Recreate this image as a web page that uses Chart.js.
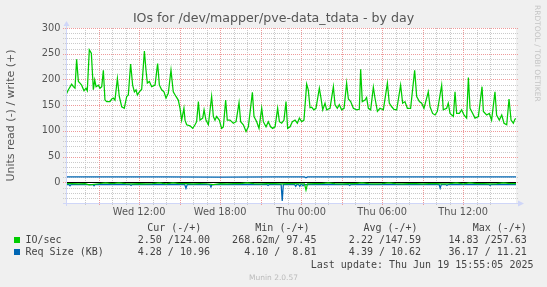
<!DOCTYPE html>
<html><head><meta charset="utf-8">
<script src="https://cdn.jsdelivr.net/npm/chart.js@4.4.1/dist/chart.umd.min.js"></script>
<style>
html,body{margin:0;padding:0;background:#F0F0F0;width:547px;height:287px;overflow:hidden;}
#wrap{position:relative;width:547px;height:287px;}
#c{position:absolute;left:0;top:0;}
.lg{position:absolute;white-space:pre;font-family:"DejaVu Sans Mono",monospace;font-size:10px;line-height:12px;color:#444;}
.sq{position:absolute;width:6px;height:6px;}
#wm{position:absolute;left:532.5px;top:5px;writing-mode:vertical-rl;font-family:"DejaVu Sans",sans-serif;font-size:7.5px;line-height:9px;color:#c4c4c4;white-space:pre;}
#ver{position:absolute;left:0;top:273px;width:547px;text-align:center;font-family:"DejaVu Sans",sans-serif;font-size:7.5px;line-height:9px;color:#bbbbbb;}
</style></head>
<body><div id="wrap"><canvas id="c" width="547" height="287"></canvas></div>
<script>
// ---- texts ----
const chartTitle = 'IOs for /dev/mapper/pve-data_tdata - by day';
const yAxisTitle = 'Units read (-) / write (+)';
const watermark = 'RRDTOOL / TOBI OETIKER';
const versionText = 'Munin 2.0.57';
const lastUpdate = 'Last update: Thu Jun 19 15:55:05 2025';

// ---- axis range / ticks (hours since Wed 00:00) ----
const xStart = 6.5833, xEnd = 39.9167;
const xTickHours = [12, 18, 24, 30, 36];
const xTickLabels = ['Wed 12:00', 'Wed 18:00', 'Thu 00:00', 'Thu 06:00', 'Thu 12:00'];
const yTickValues = [0, 50, 100, 150, 200, 250, 300];

// ---- IO/sec write (+) ----
const ioWriteTimes = [6.58,6.76,7.00,7.13,7.25,7.37,7.50,7.62,7.74,7.92,8.06,8.16,8.31,8.46,8.61,8.71,8.81,8.98,9.10,9.23,9.35,9.47,9.60,9.84,9.97,10.09,10.21,10.39,10.53,10.71,10.90,11.08,11.20,11.37,11.52,11.65,11.77,11.87,12.02,12.19,12.39,12.51,12.61,12.76,12.93,13.18,13.37,13.50,13.67,13.84,13.99,14.16,14.36,14.53,14.73,14.90,15.03,15.15,15.32,15.40,15.52,15.77,15.97,16.14,16.26,16.39,16.51,16.71,16.81,16.95,17.13,17.37,17.50,17.62,17.74,17.94,18.11,18.24,18.41,18.53,18.73,18.98,19.18,19.40,19.52,19.72,19.92,20.09,20.39,20.51,20.71,20.88,21.08,21.20,21.40,21.57,21.74,21.89,22.07,22.26,22.39,22.56,22.73,22.88,23.00,23.18,23.35,23.55,23.72,23.87,24.04,24.21,24.41,24.53,24.66,24.78,24.95,25.10,25.35,25.47,25.60,25.77,25.89,26.14,26.39,26.51,26.68,26.83,27.00,27.18,27.37,27.50,27.67,27.87,28.11,28.31,28.41,28.53,28.73,28.85,28.98,29.15,29.35,29.47,29.65,29.84,30.09,30.39,30.53,30.71,30.88,31.08,31.37,31.52,31.69,31.87,32.11,32.41,32.56,32.76,32.93,33.10,33.42,33.55,33.74,33.92,34.09,34.41,34.53,34.78,34.90,35.03,35.28,35.40,35.52,35.72,35.89,36.06,36.26,36.39,36.51,36.71,36.88,37.13,37.40,37.50,37.74,37.94,38.11,38.36,38.48,38.68,38.86,39.03,39.23,39.40,39.55,39.72,39.84,39.92];
const ioWrite = [170,180,191,186,183,239,196,193,189,178,183,178,257.63,251,180,199,186,189,183,186,218,160,157,157,162,164,160,202,167,147,144,167,170,230,189,176,180,170,176,181,255,218,193,196,186,189,231,189,180,176,164,173,218,176,167,160,144,121,144,121,112,110,105,112,118,157,121,125,141,121,112,167,128,121,128,121,105,108,160,121,121,115,118,155,118,112,99,108,175,128,118,105,144,118,108,118,108,105,108,144,118,115,121,157,105,108,118,121,115,125,118,121,191,180,145,146,141,144,183,164,141,154,141,144,186,151,144,151,141,144,193,162,157,144,141,142,220,157,160,165,144,141,185,164,138,144,141,193,154,147,142,141,189,154,157,144,144,218,167,157,154,144,176,147,134,131,138,189,141,144,154,134,128,176,134,134,141,131,125,204,144,134,125,128,186,138,131,134,121,176,131,121,131,115,112,162,121,115,123,124];

// ---- IO/sec read (-) ----
const ioReadTimes = [6.58,7.0,7.5,8.0,8.3,8.5,9.0,9.5,10.0,10.5,11.0,11.5,12.0,12.5,13.0,13.5,14.0,14.5,15.0,15.5,16.0,16.5,17.0,17.5,18.0,18.5,19.0,19.5,20.0,20.5,21.0,21.5,22.0,22.5,23.0,23.5,24.0,24.25,24.36,24.47,25.0,25.5,26.0,26.5,27.0,27.5,28.0,28.5,29.0,29.5,30.0,30.5,31.0,31.5,32.0,32.5,33.0,33.5,34.0,34.5,35.0,35.5,36.0,36.5,37.0,37.5,38.0,38.5,39.0,39.5,39.92];
const ioRead = [-2.6,-2.4,-2.7,-2.5,-4.8,-4.5,-2.6,-0.8,-2.4,-0.9,-2.5,-2.6,-2.4,-2.7,-2.5,-1.0,-2.6,-0.8,-2.5,-2.4,-2.6,-2.3,-2.6,-4.2,-2.4,-2.6,-2.5,-2.4,-0.9,-2.5,-2.6,-2.4,-2.5,-2.6,-2.4,-2.5,-2.6,-3.0,-14.83,-3.0,-2.5,-2.4,-0.8,-2.5,-2.6,-2.4,-2.5,-0.9,-2.4,-2.6,-2.5,-0.8,-2.5,-2.6,-2.4,-2.5,-2.6,-2.4,-2.5,-2.6,-2.4,-0.8,-2.6,-0.9,-2.5,-2.4,-2.6,-2.5,-0.9,-2.4,-2.5];

// ---- Req Size (KB) write (+) ----
const reqWriteTimes = [6.58,10.0,14.0,18.0,22.0,24.25,24.36,24.47,28.0,32.0,36.0,39.92];
const reqWrite = [10.7,10.6,10.7,10.5,10.6,10.6,8.81,10.6,10.7,10.6,10.8,10.96];

// ---- Req Size (KB) read (-) ----
const reqReadTimes = [6.58,6.80,6.88,6.96,8.58,8.66,8.74,11.32,11.40,11.48,15.38,15.47,15.56,17.24,17.32,17.40,21.47,21.55,21.63,22.52,22.60,22.68,23.52,23.60,23.68,23.82,23.90,23.98,24.06,24.14,24.22,27.52,27.60,27.68,34.22,34.30,34.38,34.72,34.80,34.88,37.92,38.00,38.08,39.92];
const reqRead = [-4.3,-4.3,-6.5,-4.3,-4.3,-6.5,-4.4,-4.3,-6.0,-4.3,-4.3,-11.5,-4.4,-4.3,-9.0,-4.3,-4.3,-6.0,-4.3,-4.3,-36.17,-4.3,-4.3,-7.5,-4.4,-4.3,-7.5,-4.3,-4.3,-6.5,-4.3,-4.3,-6.0,-4.3,-4.3,-11.0,-4.3,-4.3,-6.0,-4.3,-4.3,-6.0,-4.3,-4.28];

// ---- legend ----
const seriesNames = ['IO/sec', 'Req Size (KB)'];
const seriesColors = ['#00CC00', '#0066B3'];
const statHeaders = ['Cur (-/+)', 'Min (-/+)', 'Avg (-/+)', 'Max (-/+)'];
const ioStats = ['2.50 /124.00', '268.62m/ 97.45', '2.22 /147.59', '14.83 /257.63'];
const reqStats = ['4.28 / 10.96', '4.10 /  8.81', '4.39 / 10.62', '36.17 / 11.21'];

// ---------------------------------------------------------------
const TXT = '#555555';
const GRID_MINOR = '#CACACA';
const GRID_MAJOR = '#EE9A9A';
const AXIS = '#CFD6F8';
const FONT = "'DejaVu Sans', sans-serif";

const pts = (t, v) => t.map((x, i) => ({x: x, y: v[i]}));
const isInt = v => Math.abs(v - Math.round(v)) < 1e-6;

const muninPlugin = {
  id: 'munin',
  beforeDraw(chart) {
    const {ctx, chartArea: a} = chart;
    ctx.save();
    ctx.fillStyle = '#FFFFFF';
    ctx.fillRect(a.left, a.top, a.right - a.left, a.bottom - a.top);
    ctx.restore();
  },
  beforeDatasetsDraw(chart) {
    const {ctx, chartArea: a, scales} = chart;
    const xs = scales.x, ys = scales.y;
    ctx.save();
    ctx.lineWidth = 1;
    ctx.setLineDash([1, 1]);
    [false, true].forEach(major => {
      ys.ticks.forEach(t => {
        if ((t.value % 50 === 0) !== major) return;
        const p = Math.round(ys.getPixelForValue(t.value)) + 0.5;
        ctx.strokeStyle = major ? GRID_MAJOR : GRID_MINOR;
        ctx.beginPath(); ctx.moveTo(a.left - 3, p); ctx.lineTo(a.right + 2, p); ctx.stroke();
      });
      xs.ticks.forEach(t => {
        if (!isInt(t.value)) return;
        if ((Math.round(t.value) % 3 === 0) !== major) return;
        const p = Math.round(xs.getPixelForValue(t.value)) + 0.5;
        ctx.strokeStyle = major ? GRID_MAJOR : GRID_MINOR;
        ctx.beginPath(); ctx.moveTo(p, a.top); ctx.lineTo(p, a.bottom + 3); ctx.stroke();
      });
    });
    ctx.setLineDash([]);
    const py = Math.round(ys.getPixelForValue(0)) + 0.5;
    ctx.strokeStyle = '#000000';
    ctx.beginPath(); ctx.moveTo(a.left, py); ctx.lineTo(a.right, py); ctx.stroke();
    ctx.restore();
  },
  afterDraw(chart) {
    const {ctx, chartArea: a} = chart;
    ctx.save();
    ctx.strokeStyle = AXIS; ctx.fillStyle = AXIS; ctx.lineWidth = 1;
    const bx = a.left + 0.5, by = a.bottom + 0.5;
    ctx.beginPath();
    ctx.moveTo(a.left - 3, by); ctx.lineTo(a.right + 3, by);
    ctx.moveTo(bx, a.bottom + 3); ctx.lineTo(bx, a.top - 3);
    ctx.stroke();
    ctx.beginPath();
    ctx.moveTo(a.right + 2, by - 3); ctx.lineTo(a.right + 8, by); ctx.lineTo(a.right + 2, by + 3);
    ctx.closePath(); ctx.fill();
    ctx.beginPath();
    ctx.moveTo(bx - 3, a.top - 2); ctx.lineTo(bx, a.top - 7); ctx.lineTo(bx + 3, a.top - 2);
    ctx.closePath(); ctx.fill();
    ctx.restore();
  }
};

new Chart(document.getElementById('c'), {
  type: 'line',
  data: {
    datasets: [
      {label: 'IO/sec write', data: pts(ioWriteTimes, ioWrite), borderColor: seriesColors[0], order: 0},
      {label: 'IO/sec read', data: pts(ioReadTimes, ioRead), borderColor: seriesColors[0], order: 0},
      {label: 'Req Size write', data: pts(reqWriteTimes, reqWrite), borderColor: seriesColors[1], order: 1},
      {label: 'Req Size read', data: pts(reqReadTimes, reqRead), borderColor: seriesColors[1], order: 1}
    ]
  },
  options: {
    responsive: false, animation: false, devicePixelRatio: 1,
    layout: {padding: {left: 0, right: 0, top: 0, bottom: 0}},
    elements: {point: {radius: 0}, line: {tension: 0, borderWidth: 1.25, fill: false}},
    plugins: {
      legend: {display: false}, tooltip: {enabled: false},
      title: {display: true, text: chartTitle, color: TXT,
        font: {family: FONT, size: 12.6, weight: 'normal'},
        padding: {top: 11.44, bottom: 1.44}}
    },
    scales: {
      x: {
        type: 'linear', position: 'bottom', min: xStart, max: xEnd,
        afterFit(s) { s.height = 84; },
        ticks: {stepSize: 1, autoSkip: false, maxRotation: 0, minRotation: 0, padding: 1,
          color: TXT, font: {family: FONT, size: 9.8},
          callback: v => { const i = xTickHours.indexOf(v); return i >= 0 ? xTickLabels[i] : ''; }},
        grid: {color: 'transparent', tickColor: 'transparent', lineWidth: 1, drawTicks: true, tickLength: 3},
        border: {display: false}
      },
      y: {
        type: 'linear', position: 'left', min: -40, max: 300,
        afterFit(s) { s.width = 66; },
        title: {display: true, text: yAxisTitle, color: TXT, font: {family: FONT, size: 11}, padding: {top: 4.4, bottom: 0}},
        ticks: {stepSize: 10, autoSkip: false, padding: 2.5, color: TXT, font: {family: FONT, size: 9.8},
          callback: v => yTickValues.includes(v) ? String(v) : ''},
        grid: {color: 'transparent', tickColor: 'transparent', lineWidth: 1, drawTicks: true, tickLength: 3},
        border: {display: false}
      },
      y2: {
        type: 'linear', position: 'right', min: 0, max: 1, display: true,
        afterFit(s) { s.width = 31; },
        grid: {display: false}, border: {display: false}, ticks: {display: false}
      }
    }
  },
  plugins: [muninPlugin]
});

// ---- HTML legend / watermark ----
const wrap = document.getElementById('wrap');
function addText(cls, txt, style) {
  const d = document.createElement('div');
  d.className = cls; d.textContent = txt;
  Object.assign(d.style, style);
  wrap.appendChild(d);
  return d;
}
const W = 547;
const headerRight = [201.3, 309.5, 417.6, 526.8];
const valueRight = [210.0, 316.4, 421.1, 526.8];
const rowTop = [221.5, 234.2, 246.2];
statHeaders.forEach((h, i) => addText('lg', h, {right: (W - headerRight[i]) + 'px', top: rowTop[0] + 'px', textAlign: 'right'}));
[ioStats, reqStats].forEach((stats, r) => {
  const sq = document.createElement('div');
  sq.className = 'sq';
  Object.assign(sq.style, {left: '14px', top: (237 + r * 12) + 'px', background: seriesColors[r]});
  wrap.appendChild(sq);
  addText('lg', seriesNames[r], {left: '25.5px', top: rowTop[r + 1] + 'px'});
  stats.forEach((s, i) => addText('lg', s, {right: (W - valueRight[i]) + 'px', top: rowTop[r + 1] + 'px', textAlign: 'right'}));
});
addText('lg', lastUpdate, {right: (W - 533.5) + 'px', top: '258.5px', textAlign: 'right'});
const wm = document.createElement('div'); wm.id = 'wm'; wm.textContent = watermark; wrap.appendChild(wm);
const ver = document.createElement('div'); ver.id = 'ver'; ver.textContent = versionText; wrap.appendChild(ver);
</script>
</body></html>
